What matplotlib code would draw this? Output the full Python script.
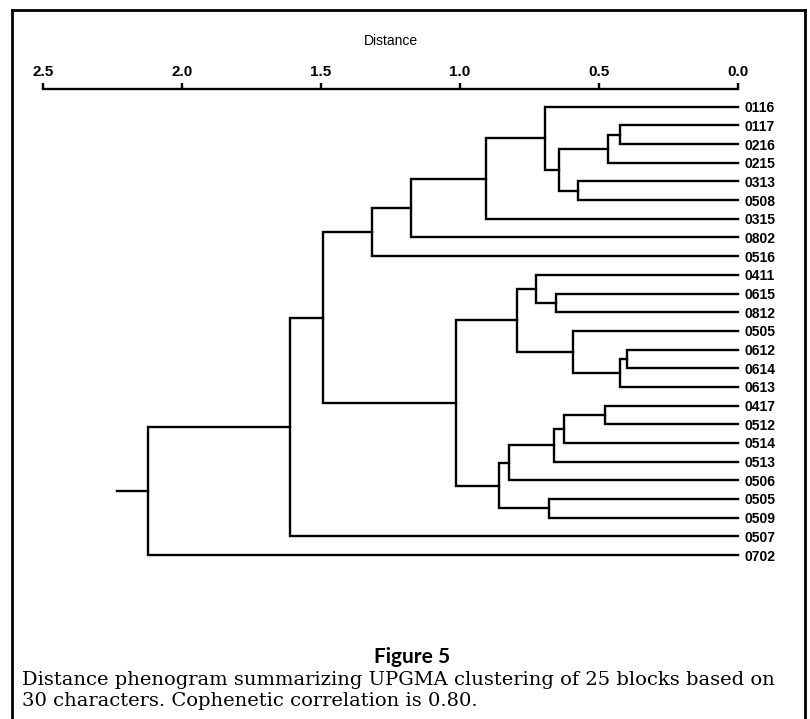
import matplotlib
matplotlib.use("Agg")
import matplotlib.pyplot as plt
from matplotlib.lines import Line2D

# leaves, top to bottom
leaf_labels = ["0116", "0117", "0216", "0215", "0313", "0508", "0315", "0802",
               "0516", "0411", "0615", "0812", "0505", "0612", "0614", "0613",
               "0417", "0512", "0514", "0513", "0506", "0505", "0509", "0507",
               "0702"]

# UPGMA merges (ids < 25 are leaves, 25+k is the k-th merge)
merge_a = [1, 25, 4, 26, 0, 29, 30, 31, 10, 9, 13, 35, 12, 34,
           16, 39, 40, 41, 21, 42, 38, 32, 46, 47]
merge_b = [2, 3, 5, 27, 28, 6, 7, 8, 11, 33, 14, 15, 36, 37,
           17, 18, 19, 20, 22, 43, 44, 45, 23, 24]
merge_dist = [0.424, 0.469, 0.577, 0.645, 0.693, 0.905, 1.178, 1.315,
              0.656, 0.725, 0.398, 0.424, 0.595, 0.796,
              0.477, 0.626, 0.662, 0.823, 0.680, 0.858, 1.014,
              1.492, 1.610, 2.124]
root_stub = 2.235

dist_ticks = [2.5, 2.0, 1.5, 1.0, 0.5, 0.0]

W, H = 810, 719
fig = plt.figure(figsize=(W / 100, H / 100), dpi=100)

top_px, leaf0_px, step_px = 89, 106.7, 18.68
ymax = 24.5
bot_px = leaf0_px + ymax * step_px
ax = fig.add_axes([43 / W, 1 - bot_px / H, 695 / W, (bot_px - top_px) / H])

n = len(leaf_labels)
ypos = {i: float(i) for i in range(n)}
hgt = {i: 0.0 for i in range(n)}
lw = 1.7
for k in range(len(merge_a)):
    a, b, d = merge_a[k], merge_b[k], merge_dist[k]
    ax.plot([hgt[a], d, d, hgt[b]], [ypos[a], ypos[a], ypos[b], ypos[b]],
            color="black", lw=lw, solid_joinstyle="miter", clip_on=False)
    node = n + k
    ypos[node] = (ypos[a] + ypos[b]) / 2
    hgt[node] = d
root = n + len(merge_a) - 1
ax.plot([hgt[root], root_stub], [ypos[root], ypos[root]], color="black",
        lw=lw, clip_on=False)

ax.set_xlim(2.5, 0.0)
ax.set_ylim(ymax, -(leaf0_px - top_px) / step_px)

for s in ["left", "right", "bottom"]:
    ax.spines[s].set_visible(False)
ax.spines["top"].set_linewidth(1.7)
ax.xaxis.tick_top()
ax.set_xticks(dist_ticks)
ax.set_xticklabels([f"{t:.1f}" for t in dist_ticks], fontsize=11,
                   fontweight="bold", family="Liberation Sans")
ax.tick_params(axis="x", direction="out", length=4.5, width=1.7, pad=3)

ax.yaxis.tick_right()
ax.set_yticks(range(n))
ax.set_yticklabels(leaf_labels, fontsize=10, fontweight="bold",
                   family="Liberation Sans")
ax.tick_params(axis="y", length=0, pad=5)

fig.text(390.5 / W, 1 - 41 / H, "Distance", ha="center", va="center",
         fontsize=10, family="Liberation Sans")

# frame around the figure panel
frame = dict(color="black", lw=2, transform=fig.transFigure)
fig.add_artist(Line2D([12 / W, 805 / W], [1 - 10 / H, 1 - 10 / H], **frame))
fig.add_artist(Line2D([12 / W, 12 / W], [1 - 10 / H, 0], **frame))
fig.add_artist(Line2D([805 / W, 805 / W], [1 - 10 / H, 0], **frame))

fig.text(412 / W, 1 - 657 / H, "Figure 5", ha="center", va="center",
         fontsize=15, fontweight="bold", family="Lato")
caption = ("Distance phenogram summarizing UPGMA clustering of 25 blocks based on\n"
           "30 characters. Cophenetic correlation is 0.80.")
fig.text(22 / W, 1 - 671 / H, caption, ha="left", va="top", fontsize=14,
         family="DejaVu Serif", linespacing=1.25)

fig.savefig("out.png", dpi=100)
